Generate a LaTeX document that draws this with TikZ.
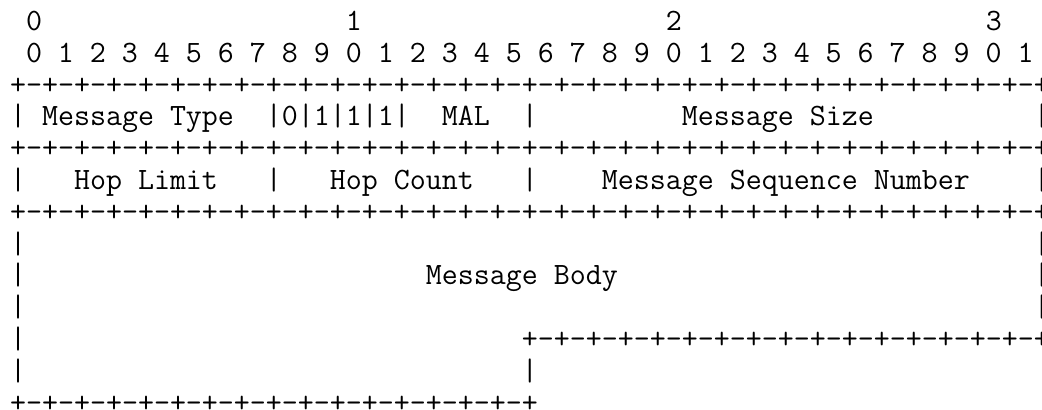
\documentclass[tikz,border=0pt]{standalone}
% one character cell of the typewriter font
\newcommand{\gap}[1]{\hspace*{#1\fontcharwd\font`0}}
\newcommand{\border}[1]{\foreach \k in {1,...,#1}{+-}+}
\tikzset{
  row/.style={anchor=base west,inner sep=0pt,
    font=\ttfamily\fontsize{11.67}{13}\selectfont}
}
\begin{document}
\begin{tikzpicture}[x=0.3757pt,y=0.3757pt]
  \useasboundingbox (0,0) rectangle (1042,409);
  % bit numbers
  \node[row] (tens) at (9.5,378.6) {\gap{1}0\gap{19}1\gap{19}2\gap{19}3};
  \node[row] (ones) at (9.5,346.8) {\foreach \d in {0,...,31}{\gap{1}\pgfmathparse{int(mod(\d,10))}\pgfmathresult}};
  % header words
  \node[row] (top) at (9.5,315.0) {\border{32}};
  \node[row] (word1) at (9.5,283.2) {|\gap{1}Message\gap{1}Type\gap{2}|0|1|1|1|\gap{2}MAL\gap{2}|\gap{9}Message\gap{1}Size\gap{10}|};
  \node[row] (sep1) at (9.5,251.4) {\border{32}};
  \node[row] (word2) at (9.5,219.6) {|\gap{3}Hop\gap{1}Limit\gap{3}|\gap{3}Hop\gap{1}Count\gap{3}|\gap{4}Message\gap{1}Sequence\gap{1}Number\gap{4}|};
  \node[row] (sep2) at (9.5,187.8) {\border{32}};
  % body
  \node[row] (body1) at (9.5,156.0) {|\gap{63}|};
  \node[row] (body2) at (9.5,124.2) {|\gap{25}Message\gap{1}Body\gap{26}|};
  \node[row] (body3) at (9.5,92.4) {|\gap{63}|};
  \node[row] (body4) at (9.5,60.6) {|\gap{31}\border{16}};
  \node[row] (body5) at (9.5,28.8) {|\gap{31}|};
  \node[row] (bottom) at (9.5,-3.0) {\border{16}};
\end{tikzpicture}
\end{document}
